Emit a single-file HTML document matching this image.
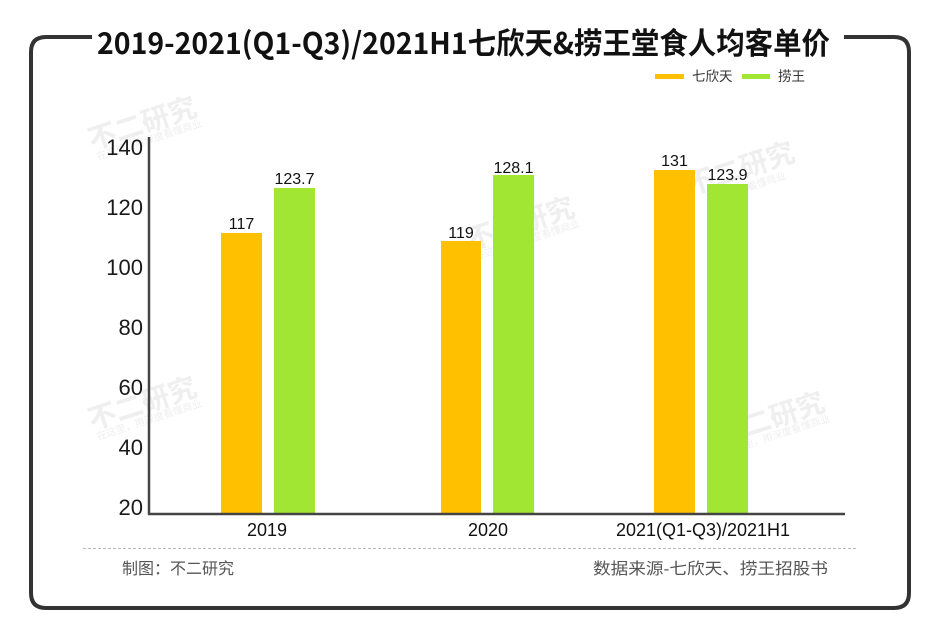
<!DOCTYPE html>
<html>
<head>
<meta charset="utf-8">
<style>
html,body{margin:0;padding:0;background:#fff;}
svg{display:block;}
</style>
</head>
<body>
<svg width="940" height="644" viewBox="0 0 940 644" xmlns="http://www.w3.org/2000/svg">
  <rect width="940" height="644" fill="#ffffff"/>
  <!-- watermarks -->
  <g fill="#efefef" font-family="'Liberation Sans','Noto Sans CJK SC',sans-serif">
    <text x="92" y="150" font-size="28" font-weight="bold" transform="rotate(-18 92 150)">不二研究</text>
    <text x="98" y="160" font-size="10" transform="rotate(-18 98 160)">在这里，用深度看懂商业</text>
    <text x="92" y="430" font-size="28" font-weight="bold" transform="rotate(-18 92 430)">不二研究</text>
    <text x="98" y="440" font-size="10" transform="rotate(-18 98 440)">在这里，用深度看懂商业</text>
    <text x="470" y="250" font-size="28" font-weight="bold" transform="rotate(-18 470 250)">不二研究</text>
    <text x="476" y="260" font-size="10" transform="rotate(-18 476 260)">在这里，用深度看懂商业</text>
    <text x="720" y="445" font-size="28" font-weight="bold" transform="rotate(-18 720 445)">不二研究</text>
    <text x="726" y="455" font-size="10" transform="rotate(-18 726 455)">在这里，用深度看懂商业</text>
    <text x="690" y="195" font-size="28" font-weight="bold" transform="rotate(-18 690 195)">不二研究</text>
    <text x="720" y="200" font-size="10" transform="rotate(-18 720 200)">用深度看懂商业</text>
  </g>

  <!-- frame -->
  <path d="M92 37 H46 Q31 37 31 52 V593 Q31 608 46 608 H894 Q909 608 909 593 V52 Q909 37 894 37 H844"
        fill="none" stroke="#333333" stroke-width="4"/>

  <!-- title -->
  <text x="97" y="54" font-family="'Noto Sans CJK SC','Liberation Sans',sans-serif" font-weight="bold" font-size="30"
        fill="#111" textLength="733" lengthAdjust="spacingAndGlyphs">2019-2021(Q1-Q3)/2021H1七欣天&amp;捞王堂食人均客单价</text>

  <!-- legend -->
  <rect x="655" y="74" width="29" height="5" fill="#FFC000"/>
  <text x="692" y="81" font-family="'Liberation Sans','Noto Sans CJK SC',sans-serif" font-size="13.5" fill="#333">七欣天</text>
  <rect x="742" y="74" width="28" height="5" fill="#A0E632"/>
  <text x="778" y="81" font-family="'Liberation Sans','Noto Sans CJK SC',sans-serif" font-size="13.5" fill="#333">捞王</text>

  <!-- y tick labels -->
  <g font-family="'Liberation Sans',sans-serif" font-size="22" fill="#1a1a1a" text-anchor="end">
    <text x="143" y="155">140</text>
    <text x="143" y="215">120</text>
    <text x="143" y="275">100</text>
    <text x="143" y="335">80</text>
    <text x="143" y="395">60</text>
    <text x="143" y="455">40</text>
    <text x="143" y="515">20</text>
  </g>

  <!-- bars -->
  <rect x="221" y="233" width="41" height="281" fill="#FFC000"/>
  <rect x="274" y="188" width="41" height="326" fill="#A0E632"/>
  <rect x="441" y="241" width="40" height="273" fill="#FFC000"/>
  <rect x="493" y="175" width="41" height="339" fill="#A0E632"/>
  <rect x="654" y="170" width="41" height="344" fill="#FFC000"/>
  <rect x="707" y="184" width="41" height="330" fill="#A0E632"/>

  <!-- value labels -->
  <g font-family="'Liberation Sans',sans-serif" font-size="16" fill="#111" text-anchor="middle">
    <text x="241.5" y="229">117</text>
    <text x="294.5" y="184">123.7</text>
    <text x="461" y="238">119</text>
    <text x="513.5" y="173">128.1</text>
    <text x="674.5" y="166">131</text>
    <text x="727.5" y="180">123.9</text>
  </g>

  <!-- axes -->
  <line x1="149" y1="137" x2="149" y2="515" stroke="#444" stroke-width="2.5"/>
  <line x1="148" y1="514" x2="845" y2="514" stroke="#444" stroke-width="2.5"/>

  <!-- x labels -->
  <g font-family="'Liberation Sans',sans-serif" font-size="18" fill="#111" text-anchor="middle">
    <text x="267" y="536">2019</text>
    <text x="488" y="536">2020</text>
    <text x="703" y="536">2021(Q1-Q3)/2021H1</text>
  </g>

  <!-- dashed separator -->
  <line x1="83" y1="548.5" x2="857" y2="548.5" stroke="#bbbbbb" stroke-width="1" stroke-dasharray="3,2"/>

  <!-- footer -->
  <g font-family="'Liberation Sans','Noto Sans CJK SC',sans-serif" font-size="16" fill="#555">
    <text x="122" y="574">制图：不二研究</text>
    <text x="593" y="574" textLength="235" lengthAdjust="spacingAndGlyphs">数据来源-七欣天、捞王招股书</text>
  </g>
</svg>
</body>
</html>
